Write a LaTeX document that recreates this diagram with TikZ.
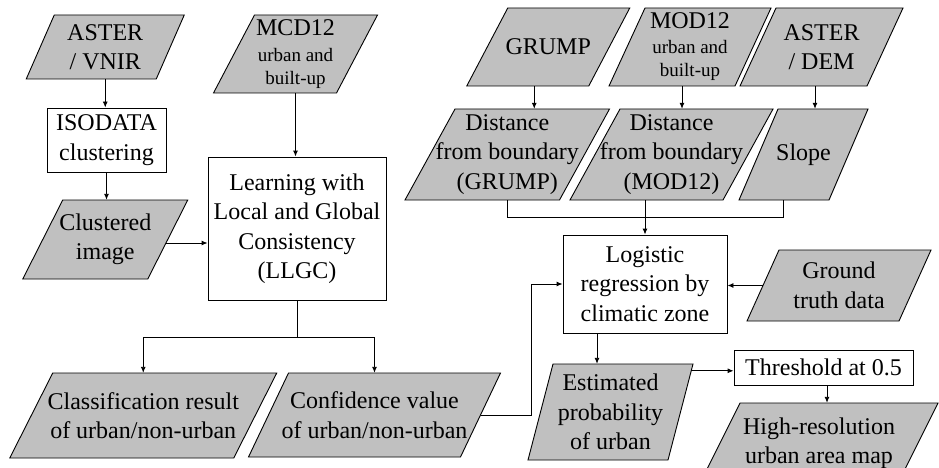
\documentclass[tikz,border=0pt]{standalone}
\usepackage{fontspec}
\setmainfont{Liberation Serif}
\usetikzlibrary{arrows.meta,calc}
\definecolor{shapegray}{RGB}{192,192,192}
\newcommand\mainsz{\fontsize{24}{29.5}\selectfont}
\newcommand\smallsz{\fontsize{19}{23}\selectfont}
\tikzset{
  pshape/.style={draw=black, fill=shapegray, line width=0.9pt, line join=miter},
  ptext/.style={inner sep=0pt, align=center, font=\mainsz},
  box/.style={draw=black, fill=white, line width=0.9pt, inner sep=0pt, align=center, font=\mainsz},
  conn/.style={draw=black, line width=0.9pt},
  arr/.style={conn, -{Latex[length=6pt,width=5pt]}}
}
% name, cx, cy, w, h, slant, text
\newcommand\paral[7]{%
  \filldraw[pshape] ({#2-#4/2+#6/2},{#3-#5/2}) -- ({#2+#4/2+#6/2},{#3-#5/2})
     -- ({#2+#4/2-#6/2},{#3+#5/2}) -- ({#2-#4/2-#6/2},{#3+#5/2}) -- cycle;
  \node[ptext, minimum width=#4pt, minimum height=#5pt] (#1) at (#2,#3) {#7};
}
\begin{document}
\begin{tikzpicture}[x=1pt,y=-1pt]
\useasboundingbox (0,0) rectangle (939,468);
\clip (0,0) rectangle (939,468);
\fill[white] (0,0) rectangle (939,468);

% left part
\paral{aster}{105.25}{47}{130}{64}{28}{ASTER\\/ VNIR}
\node[box, minimum width=119pt, minimum height=64pt] (isodata) at (106.5,140) {ISODATA\\clustering};
\paral{clustered}{105.25}{239.5}{125}{79}{40}{Clustered\\image}
\paral{mcd12}{295.5}{54}{123}{78}{41}{MCD12\\[-3.5pt]{\smallsz urban and}\\[-6.5pt]{\smallsz built-up}}
\node[box, minimum width=178pt, minimum height=143pt] (llgc) at (297,228.5) {Learning with\\Local and Global\\Consistency\\(LLGC)};
\paral{classif}{143.25}{415.5}{224}{85}{43}{Classification result\\of urban/non-urban}
\paral{confid}{374.5}{415}{212}{84}{40}{Confidence value\\of urban/non-urban}

% right part
\paral{grump}{548.25}{47}{122}{78}{41}{GRUMP}
\paral{mod12}{690}{47}{126}{78}{36}{MOD12\\[-4.5pt]{\smallsz urban and}\\[-6.5pt]{\smallsz built-up}}
\paral{asterdem}{821.5}{47}{127}{78}{36}{ASTER\\/ DEM}
\paral{dgrump}{507.25}{154.5}{154.5}{91}{50}{Distance\\from boundary\\(GRUMP)}
\paral{dmod12}{671.5}{154.5}{153}{91}{50}{Distance\\from boundary\\(MOD12)}
\paral{slope}{803.5}{154.5}{90}{91}{39}{Slope}
\node[box, minimum width=164pt, minimum height=98pt] (logistic) at (645,284) {Logistic\\regression by\\climatic zone};
\paral{ground}{839}{285.5}{152}{71}{32}{Ground\\truth data}
\paral{estimated}{610.5}{412}{140}{96}{25}{Estimated\\probability\\of urban}
\node[box, minimum width=179pt, minimum height=35pt] (threshold) at (823.5,367.5) {Threshold at 0.5};
\paral{highres}{819}{443}{198}{80}{40}{High-resolution\\urban area map}

% connectors left
\draw[arr] (aster.south) -- (aster.south |- isodata.north);
\draw[arr] (isodata.south) -- (isodata.south |- clustered.north);
\draw[arr] (mcd12.south) -- (mcd12.south |- llgc.north);
\draw[arr] ($(clustered.east)+(-1.5,3.5)$) coordinate (c1) -- (c1 -| llgc.west);
\draw[conn] (llgc.south) -- ++(0,37) coordinate (j1);
\draw[arr] (j1) -| (classif.north);
\draw[arr] (j1) -| (confid.north);
\draw[arr] (confid.east) -- ++(51,0) |- (logistic.west);

% connectors right
\draw[arr] ($(grump.south)+(-14,0)$) coordinate (g1) -- (g1 |- dgrump.north);
\draw[arr] ($(mod12.south)+(-8,0)$) coordinate (m1) -- (m1 |- dmod12.north);
\draw[arr] ($(asterdem.south)+(-6.5,0)$) coordinate (a1) -- (a1 |- slope.north);
\draw[conn] (dgrump.south) -- ++(0,17) coordinate (j2) -| ($(slope.south)+(-20.5,0)$);
\draw[arr] (logistic.north |- dmod12.south) -- (logistic.north);
\draw[arr] (ground.west) -- (logistic.east |- ground.west);
\draw[arr] ($(logistic.south)+(-48,0)$) coordinate (l1) -- (l1 |- estimated.north);
\draw[arr] ($(estimated.north east)+(10.5,7)$) coordinate (e1) -- (e1 -| threshold.west);
\draw[arr] ($(threshold.south)+(3.5,0)$) coordinate (t1) -- (t1 |- highres.north);
\end{tikzpicture}
\end{document}
